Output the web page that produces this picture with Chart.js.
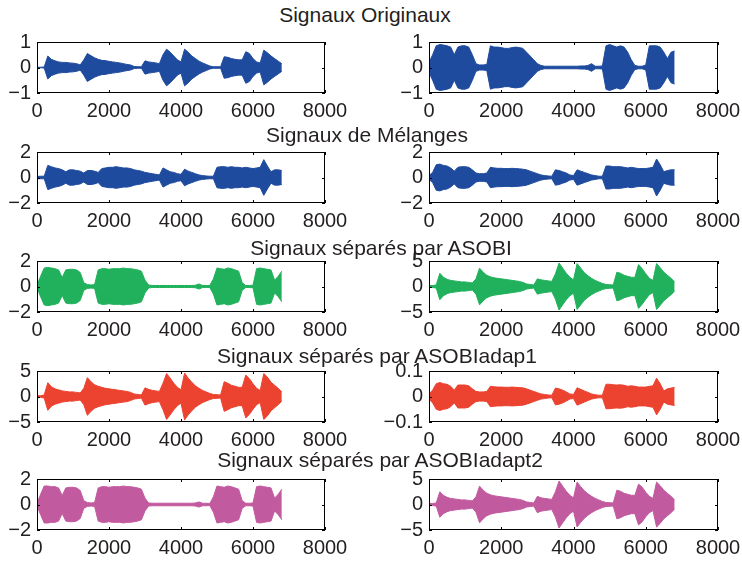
<!DOCTYPE html>
<html lang="fr">
<head>
<meta charset="UTF-8">
<title>Signaux</title>
<script src="https://cdn.jsdelivr.net/npm/chart.js"></script>
<style>
  body {
    margin: 0;
    background: #fff;
    width: 742px;
    height: 563px;
    overflow: hidden;
    position: relative;
    font-family: 'Liberation Sans', Arial, sans-serif;
  }
  canvas.panel { position: absolute; }
  .title {
    position: absolute;
    font-size: 21px;
    line-height: 21px;
    color: #231f20;
    white-space: nowrap;
    transform: translateX(-50%);
    z-index: 2;
  }
</style>
</head>
<body>
<script>
// sample index of each envelope point (every 100 samples)
const samples = [
  0,100,200,300,400,500,600,700,800,900,
  1000,1100,1200,1300,1400,1500,1600,1700,1800,1900,
  2000,2100,2200,2300,2400,2500,2600,2700,2800,2900,
  3000,3100,3200,3300,3400,3500,3600,3700,3800,3900,
  4000,4100,4200,4300,4400,4500,4600,4700,4800,4900,
  5000,5100,5200,5300,5400,5500,5600,5700,5800,5900,
  6000,6100,6200,6300,6400,6500,6600,6700,6800
];
const xTicks = [0, 2000, 4000, 6000, 8000];

const titles = [
  'Signaux Originaux',
  'Signaux de Mélanges',
  'Signaux séparés par ASOBI',
  'Signaux séparés par ASOBIadap1',
  'Signaux séparés par ASOBIadapt2'
];

// amplitude envelopes
const orig1 = [
  0.01,0.01,0.02,0.45,0.32,0.26,0.22,0.2,0.2,0.18,
  0.17,0.15,0.1,0.3,0.55,0.46,0.38,0.32,0.28,0.27,
  0.24,0.22,0.2,0.18,0.15,0.12,0.1,0.04,0.03,0.03,
  0.26,0.22,0.2,0.18,0.15,0.5,0.72,0.6,0.45,0.3,
  0.22,0.72,0.6,0.45,0.35,0.25,0.18,0.12,0.06,0.03,
  0.03,0.03,0.42,0.4,0.35,0.32,0.3,0.3,0.62,0.55,
  0.35,0.22,0.18,0.68,0.58,0.45,0.35,0.25,0.15
];
const orig2 = [
  0.2,0.5,0.85,0.9,0.88,0.85,0.8,0.5,0.8,0.85,
  0.85,0.8,0.5,0.15,0.1,0.1,0.12,0.85,0.8,0.8,
  0.78,0.75,0.75,0.78,0.8,0.78,0.75,0.6,0.45,0.3,
  0.15,0.08,0.05,0.05,0.05,0.05,0.05,0.05,0.05,0.05,
  0.05,0.05,0.06,0.06,0.08,0.15,0.05,0.05,0.06,0.85,
  0.9,0.85,0.8,0.85,0.8,0.6,0.3,0.08,0.05,0.05,
  0.1,0.85,0.85,0.85,0.8,0.6,0.35,0.6,0.65
];
const mix1 = [
  0.08,0.1,0.1,0.95,0.85,0.75,0.7,0.6,0.45,0.6,
  0.6,0.55,0.5,0.35,0.55,0.55,0.5,0.4,0.7,0.75,
  0.8,0.8,0.85,0.8,0.75,0.75,0.7,0.6,0.55,0.5,
  0.4,0.35,0.3,0.25,0.2,0.75,0.6,0.45,0.4,0.3,
  0.25,0.65,0.5,0.4,0.3,0.2,0.15,0.12,0.1,0.1,
  0.8,0.85,0.85,0.8,0.85,0.8,0.8,0.75,0.8,0.75,
  0.7,0.75,0.8,1.4,0.9,0.45,0.6,0.6,0.55
];
const mix2 = [
  0.15,0.4,1.0,1.05,0.95,0.9,0.75,0.5,0.8,0.85,
  0.85,0.8,0.6,0.35,0.3,0.3,0.35,0.8,0.75,0.72,
  0.72,0.7,0.7,0.72,0.7,0.68,0.65,0.6,0.5,0.4,
  0.3,0.2,0.15,0.12,0.1,0.6,0.55,0.45,0.35,0.2,
  0.15,0.6,0.5,0.4,0.3,0.2,0.15,0.1,0.1,0.9,
  0.9,0.85,0.85,0.85,0.8,0.75,0.8,0.75,0.7,0.7,
  0.7,0.75,0.8,1.45,1.0,0.45,0.55,0.6,0.6
];
const asobi1 = [
  0.1,0.8,1.45,1.5,1.45,1.4,1.3,0.7,1.3,1.35,
  1.35,1.3,1.1,0.3,0.15,0.12,0.15,1.3,1.4,1.4,
  1.35,1.4,1.4,1.4,1.45,1.4,1.4,1.35,1.3,1.2,
  0.5,0.12,0.08,0.08,0.08,0.08,0.08,0.08,0.08,0.08,
  0.08,0.08,0.08,0.08,0.1,0.2,0.08,0.08,0.08,0.6,
  1.45,1.4,1.35,1.45,1.4,1.3,1.2,0.3,0.08,0.08,
  0.1,1.4,1.45,1.4,1.35,1.3,0.5,0.8,1.2
];
const asobi2 = [
  0.2,0.2,0.3,2.6,1.8,1.4,1.2,1.1,1.0,0.9,
  0.9,0.8,0.7,1.5,3.6,2.8,2.2,1.9,1.7,1.6,
  1.5,1.4,1.3,1.2,1.1,1.0,0.8,0.5,0.4,0.3,
  1.5,1.3,1.2,1.1,1.0,2.5,4.6,3.6,2.6,1.8,
  1.3,4.5,3.6,2.7,2.1,1.6,1.2,0.9,0.6,0.4,
  0.35,0.3,2.8,2.6,2.2,2.0,1.8,1.8,4.3,3.5,
  2.5,1.6,1.2,4.5,3.7,2.8,2.2,1.6,0.9
];
const adap1a = [
  0.15,0.15,0.3,2.7,1.9,1.5,1.3,1.1,1.0,0.9,
  0.9,0.8,0.7,1.6,3.7,2.9,2.3,2.0,1.8,1.6,
  1.5,1.4,1.3,1.2,1.1,1.0,0.8,0.5,0.4,0.3,
  1.7,1.4,1.2,1.1,1.0,2.6,4.5,3.6,2.6,1.8,
  1.3,4.6,3.6,2.8,2.1,1.6,1.2,0.9,0.6,0.4,
  0.35,0.3,2.9,2.6,2.2,2.0,1.8,1.8,4.2,3.5,
  2.5,1.6,1.2,4.5,3.8,2.8,2.2,1.6,0.9
];
const adap1b = [
  0.01,0.025,0.05,0.055,0.05,0.048,0.04,0.025,0.045,0.045,
  0.045,0.042,0.03,0.02,0.018,0.018,0.02,0.04,0.038,0.037,
  0.037,0.036,0.036,0.037,0.036,0.035,0.034,0.03,0.025,0.02,
  0.015,0.01,0.008,0.006,0.005,0.033,0.03,0.025,0.018,0.01,
  0.008,0.034,0.028,0.022,0.016,0.01,0.007,0.005,0.005,0.048,
  0.048,0.046,0.045,0.046,0.044,0.04,0.042,0.04,0.037,0.037,
  0.037,0.04,0.042,0.072,0.05,0.022,0.03,0.033,0.035
];
const adapt2a = [
  0.1,0.8,1.45,1.45,1.4,1.4,1.3,0.7,1.3,1.35,
  1.35,1.3,1.1,0.3,0.15,0.12,0.15,1.3,1.4,1.4,
  1.35,1.4,1.4,1.4,1.45,1.4,1.4,1.35,1.3,1.2,
  0.5,0.12,0.1,0.1,0.1,0.1,0.1,0.1,0.1,0.1,
  0.1,0.1,0.1,0.1,0.12,0.2,0.1,0.1,0.08,0.6,
  1.45,1.4,1.35,1.45,1.4,1.3,1.2,0.3,0.1,0.1,
  0.12,1.4,1.45,1.4,1.35,1.3,0.5,0.8,1.2
];
const adapt2b = [
  0.2,0.2,0.3,2.5,1.8,1.4,1.2,1.1,1.0,0.9,
  0.9,0.8,0.7,1.5,3.6,2.8,2.2,1.9,1.7,1.6,
  1.5,1.4,1.3,1.2,1.1,1.0,0.8,0.5,0.4,0.3,
  1.6,1.3,1.2,1.1,1.0,2.5,4.6,3.6,2.6,1.8,
  1.3,4.4,3.5,2.7,2.1,1.6,1.2,0.9,0.6,0.4,
  0.35,0.3,2.8,2.6,2.2,2.0,1.8,1.8,4.0,3.4,
  2.4,1.6,1.2,4.4,3.7,2.8,2.2,1.6,0.9
];

const yTicks1 = [-1, 0, 1];
const yTicks2 = [-2, 0, 2];
const yTicks5 = [-5, 0, 5];
const yTicks01 = [-0.1, 0, 0.1];

const blue = '#1f4b9e', green = '#21b15c', red = '#ec4230', pink = '#c25a9f';
const textColor = '#231f20';
const fontFamily = "'Liberation Sans', Arial, sans-serif";

const panels = [
  { row: 0, col: 0, amp: orig1,   color: blue,  yTicks: yTicks1 },
  { row: 0, col: 1, amp: orig2,   color: blue,  yTicks: yTicks1 },
  { row: 1, col: 0, amp: mix1,    color: blue,  yTicks: yTicks2 },
  { row: 1, col: 1, amp: mix2,    color: blue,  yTicks: yTicks2 },
  { row: 2, col: 0, amp: asobi1,  color: green, yTicks: yTicks2 },
  { row: 2, col: 1, amp: asobi2,  color: green, yTicks: yTicks5 },
  { row: 3, col: 0, amp: adap1a,  color: red,   yTicks: yTicks5 },
  { row: 3, col: 1, amp: adap1b,  color: red,   yTicks: yTicks01 },
  { row: 4, col: 0, amp: adapt2a, color: pink,  yTicks: yTicks2 },
  { row: 4, col: 1, amp: adapt2b, color: pink,  yTicks: yTicks5 }
];

// layout (pixels)
const rowTops = [42, 152, 261, 371, 479];
const areaH = 51;
const colLeft = [37, 429], colW = [288, 289];
const yAxisW = [37, 60], padRight = [40, 24];
const padTop = 10, xAxisH = 30;
const titlePos = [[365, 7], [367, 127], [381, 240], [377, 348], [380, 452]];

function fmt(v) {
  return v < 0 ? '\u2212' + Math.abs(v) : String(v);
}

// axes box with inward ticks, like the original figure
const boxPlugin = {
  id: 'boxPlugin',
  afterDraw(chart) {
    const { ctx, chartArea: a, scales: { x, y } } = chart;
    const L = Math.round(a.left), R = Math.round(a.right), T = Math.round(a.top), B = Math.round(a.bottom);
    ctx.save();
    ctx.strokeStyle = '#000';
    ctx.lineWidth = 1;
    ctx.strokeRect(L + 0.5, T + 0.5, R - L - 1, B - T - 1);
    ctx.beginPath();
    x.ticks.forEach(t => {
      const px = Math.round(x.getPixelForValue(t.value)) + 0.5;
      ctx.moveTo(px, B); ctx.lineTo(px, B - 3);
      ctx.moveTo(px, T); ctx.lineTo(px, T + 3);
    });
    y.ticks.forEach(t => {
      const py = Math.round(y.getPixelForValue(t.value)) + 0.5;
      ctx.moveTo(L, py); ctx.lineTo(L + 3, py);
      ctx.moveTo(R, py); ctx.lineTo(R - 3, py);
    });
    ctx.stroke();
    ctx.restore();
  }
};

titles.forEach((t, i) => {
  const d = document.createElement('div');
  d.className = 'title';
  d.textContent = t;
  d.style.left = titlePos[i][0] + 'px';
  d.style.top = (titlePos[i][1] - 3) + 'px';
  document.body.appendChild(d);
});

panels.forEach(p => {
  const c = p.col;
  const cv = document.createElement('canvas');
  cv.className = 'panel';
  const w = yAxisW[c] + colW[c] + padRight[c];
  const h = padTop + areaH + xAxisH;
  cv.width = w; cv.height = h;
  cv.style.width = w + 'px'; cv.style.height = h + 'px';
  cv.style.left = (colLeft[c] - yAxisW[c]) + 'px';
  cv.style.top = (rowTops[p.row] - padTop) + 'px';
  document.body.appendChild(cv);

  const upper = samples.map((s, i) => ({ x: s, y: p.amp[i] }));
  const lower = samples.map((s, i) => ({ x: s, y: -p.amp[i] }));
  const yMax = p.yTicks[p.yTicks.length - 1];

  new Chart(cv, {
    type: 'line',
    data: {
      datasets: [
        { data: upper, borderColor: p.color, backgroundColor: p.color, borderWidth: 1,
          pointRadius: 0, fill: '+1', tension: 0 },
        { data: lower, borderColor: p.color, backgroundColor: p.color, borderWidth: 1,
          pointRadius: 0, fill: false, tension: 0 }
      ]
    },
    options: {
      responsive: false,
      animation: false,
      events: [],
      layout: { padding: { top: padTop, right: padRight[c], bottom: 0, left: 0 } },
      plugins: { legend: { display: false }, tooltip: { enabled: false } },
      scales: {
        x: {
          type: 'linear', min: 0, max: 8000,
          grid: { display: false, drawTicks: false },
          border: { display: false },
          afterBuildTicks: s => { s.ticks = xTicks.map(v => ({ value: v })); },
          afterFit: s => { s.height = xAxisH; s.paddingLeft = 0; s.paddingRight = 0; },
          ticks: { padding: 6, color: textColor, font: { family: fontFamily, size: 20 },
                   maxRotation: 0, autoSkip: false, callback: v => fmt(v) }
        },
        y: {
          type: 'linear', min: -yMax, max: yMax,
          grid: { display: false, drawTicks: false },
          border: { display: false },
          afterBuildTicks: s => { s.ticks = p.yTicks.map(v => ({ value: v })); },
          afterFit: s => { s.width = yAxisW[c]; s.paddingTop = 0; s.paddingBottom = 0; },
          ticks: { padding: 6, color: textColor, font: { family: fontFamily, size: 20 },
                   autoSkip: false, callback: v => fmt(v) }
        }
      }
    },
    plugins: [boxPlugin]
  });
});
</script>
</body>
</html>
